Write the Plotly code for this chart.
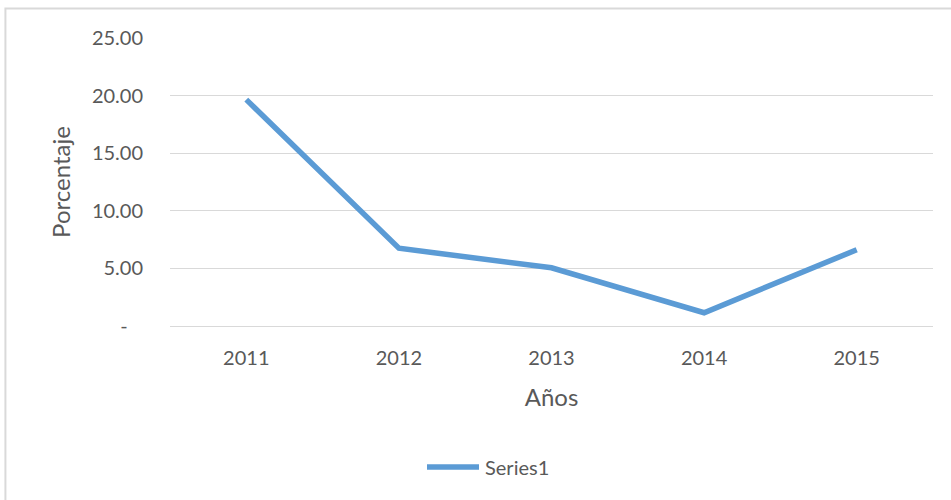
import plotly.graph_objects as go

# Porcentaje por año
years = ["2011", "2012", "2013", "2014", "2015"]
values = [19.65, 6.75, 5.05, 1.15, 6.62]

y_tick_vals = [0, 5, 10, 15, 20, 25]
y_tick_text = ["-\u00a0\u00a0\u00a0", "5.00", "10.00", "15.00", "20.00", "25.00"]

series_name = "Series1"
line_color = "#5B9BD5"
grid_color = "#D9D9D9"
text_color = "#595959"
font_family = "Lato, 'Open Sans', sans-serif"

fig = go.Figure()
fig.add_trace(go.Scatter(
    x=years, y=values, mode="lines", name=series_name,
    line=dict(color=line_color, width=5.5),
    showlegend=False,
))

fig.update_layout(
    width=951, height=500,
    margin=dict(l=170, r=18, t=38, b=174),
    paper_bgcolor="white", plot_bgcolor="white",
    font=dict(family=font_family, color=text_color, size=20),
    xaxis=dict(
        type="category", range=[-0.5, 4.5],
        showgrid=False, zeroline=False, showline=False, ticks="",
        ticklabelstandoff=18,
        tickfont=dict(size=20, color=text_color),
        title=dict(text="Años", font=dict(size=24, color=text_color), standoff=21),
        automargin=False,
    ),
    yaxis=dict(
        range=[0, 25], tickvals=y_tick_vals, ticktext=y_tick_text,
        showgrid=True, gridcolor=grid_color, gridwidth=1.3,
        zeroline=True, zerolinecolor=grid_color, zerolinewidth=1.3,
        showline=False, ticks="",
        ticklabelstandoff=26,
        tickfont=dict(size=20, color=text_color),
        title=dict(text="Porcentaje", font=dict(size=24, color=text_color), standoff=14),
        automargin=False,
    ),
)

# Chart-area border
fig.add_shape(type="rect", xref="paper", yref="paper",
              x0=-0.2157, x1=1.2, y0=-1.0, y1=1.1025,
              line=dict(color=grid_color, width=2), fillcolor="rgba(0,0,0,0)",
              layer="below")

# Legend: key line plus label
fig.add_shape(type="line", xref="paper", yref="paper",
              x0=(427 - 170) / 763, x1=(479 - 170) / 763,
              y0=(326 - 467) / 288, y1=(326 - 467) / 288,
              line=dict(color=line_color, width=5.5))
fig.add_annotation(xref="paper", yref="paper",
                   x=(483 - 170) / 763, y=(326 - 467) / 288,
                   xanchor="left", yanchor="middle", showarrow=False,
                   text=series_name, font=dict(size=20, color=text_color))

fig.write_html("out.html")
